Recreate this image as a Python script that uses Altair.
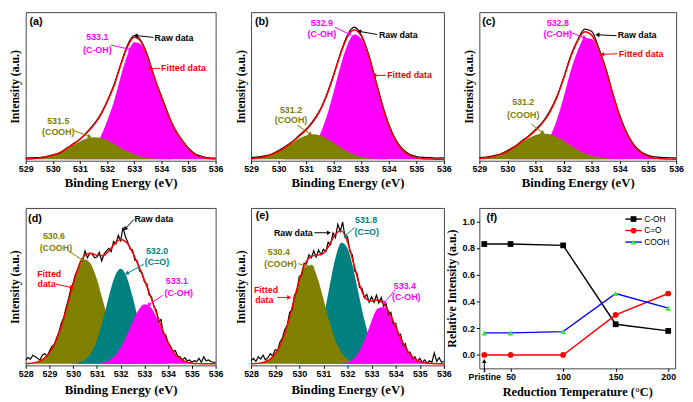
import math
import pandas as pd
import altair as alt

SANS = "Liberation Sans"
SERIF = "Liberation Serif"
MAG = "#ff00ff"
OLV = "#808000"
TEAL = "#008080"
RED = "#ff0000"
BLK = "#000000"

# ---------------- data ----------------
E_TOP = [round(529 + 0.25 * i, 2) for i in range(29)]   # 529..536
E_BOT = [round(528 + 0.25 * i, 2) for i in range(33)]   # 528..536
E_RAW = [round(528 + 0.1 * i, 1) for i in range(81)]    # 528..536

# (a) pristine
A_COH = [0, 0, 0, 0, 0, 0, 0.2, 0.6, 1.6, 3.8, 8, 15, 26, 39, 56, 71, 79.5, 78, 68, 55, 42, 30, 20.5, 13, 7, 3, 1.3, 0.5, 0.2]
A_COOH = [0.15, 0.35, 0.76, 1.5, 2.7, 4.5, 6.9, 9.5, 12.1, 14.1, 15, 14.6, 13, 10.6, 7.9, 5.4, 3.4, 1.9, 1.0, 0.5, 0.2, 0.1, 0, 0, 0, 0, 0, 0, 0]
A_FIT = [0.15, 0.35, 0.76, 1.5, 2.7, 4.5, 7.1, 10.1, 13.7, 17.9, 23, 29.6, 39, 49.6, 63.9, 76.4, 82.9, 79.9, 69, 55.5, 42.2, 30.1, 20.5, 13, 7, 3, 1.3, 0.5, 0.2]
A_RAW = [0.8, 1.0, 1.2, 1.8, 3.0, 4.3, 7.4, 10.5, 13.5, 18.4, 23.5, 30.2, 39.5, 50.5, 64.5, 77.5, 84, 80.5, 70, 55, 43, 30.8, 20, 13.5, 7.5, 3.6, 1.9, 1.0, 0.8]

# (b) 50 C
B_COH = [0, 0, 0, 0, 0, 0.15, 0.5, 1.5, 3.7, 8.4, 16.7, 29.4, 45.9, 63.5, 77.9, 84.8, 81.9, 70.6, 54.3, 37.3, 22.8, 12.5, 6.1, 2.6, 1.0, 0.35, 0.1, 0, 0]
B_COOH = [0.4, 0.9, 1.7, 3.2, 5.3, 8.1, 11.2, 14.1, 16.2, 17, 16.2, 14.1, 11.2, 8.1, 5.3, 3.2, 1.7, 0.9, 0.4, 0.15, 0.05, 0, 0, 0, 0, 0, 0, 0, 0]
B_FIT = [0.4, 0.9, 1.7, 3.2, 5.3, 8.25, 11.7, 15.6, 19.9, 25.4, 32.9, 43.5, 57.1, 71.6, 83.2, 88, 83.6, 71.5, 54.7, 37.45, 22.85, 12.5, 6.1, 2.6, 1, 0.35, 0.1, 0, 0]
B_RAW = [1.2, 1.6, 2.3, 3.6, 5.9, 8.8, 12.1, 16.3, 20.4, 26.1, 33.4, 44.2, 57.6, 72.3, 84.5, 89.8, 84.4, 72.3, 55.3, 38.2, 23.6, 13.3, 7.0, 3.4, 1.9, 1.3, 1.1, 0.8, 0.9]

# (c) 100 C
C_COH = [0, 0, 0, 0, 0, 0.1, 0.4, 1.2, 3.1, 7.2, 14.7, 26.5, 42.3, 60.1, 74, 82.5, 81.8, 73, 60.1, 43.7, 28.7, 17, 9.1, 4.4, 1.9, 0.75, 0.3, 0.1, 0]
C_COOH = [0.45, 0.95, 1.9, 3.3, 5.4, 8.2, 11.2, 14.2, 16.4, 17.5, 17, 15.2, 12.5, 9.4, 6.5, 4.1, 2.4, 1.3, 0.6, 0.25, 0.1, 0, 0, 0, 0, 0, 0, 0, 0]
C_FIT = [0.45, 0.95, 1.9, 3.3, 5.4, 8.3, 11.6, 15.4, 19.5, 24.7, 31.7, 41.7, 54.8, 69.5, 80.5, 86.6, 84.2, 74.3, 60.7, 44, 28.8, 17, 9.1, 4.4, 1.9, 0.75, 0.3, 0.1, 0]
C_RAW = [1.2, 1.5, 2.4, 3.6, 6.0, 8.6, 12.3, 15.9, 20.3, 25.2, 32.6, 42.3, 55.6, 70.4, 81.2, 88.5, 86.8, 75.5, 61.6, 44.6, 29.5, 17.9, 9.8, 5.2, 2.6, 1.6, 1.2, 1.0, 0.8]

# (d) 150 C
D_COOH = [0.14, 0.44, 1.26, 3.2, 7.0, 13.8, 24.1, 37.3, 51.1, 62.1, 67, 63.9, 54.1, 40.6, 27, 16, 8.3, 3.9, 1.6, 0.6, 0.2, 0.06, 0, 0, 0, 0, 0, 0, 0, 0, 0, 0, 0]
D_CO = [0, 0, 0, 0, 0, 0, 0, 0, 0.25, 0.9, 2.7, 7.0, 15.2, 27.9, 43.1, 55.9, 61, 55.9, 43.1, 27.9, 15.2, 7.0, 2.7, 0.9, 0.25, 0, 0, 0, 0, 0, 0, 0, 0]
D_COH = [0, 0, 0, 0, 0, 0, 0, 0, 0, 0, 0, 0, 0.27, 0.83, 2.2, 5.2, 10.4, 18, 26.8, 34.5, 38.3, 36.6, 30.2, 21.5, 13.2, 7, 3.2, 1.3, 0.43, 0.13, 0.03, 0, 0]
D_FIT = [0.14, 0.44, 1.26, 3.2, 7.0, 13.8, 24.1, 37.3, 51.35, 63, 69.7, 70.9, 69.6, 69.3, 72.3, 77.1, 79.7, 77.8, 71.5, 63, 53.7, 43.7, 32.9, 22.4, 13.45, 7, 3.2, 1.3, 0.43, 0.13, 0.03, 0, 0]
D_RAW = [2.5, 4.0, 3.0, 5.5, 4.5, 3.5, 2.5, 5.5, 6.5, 5.0,
         8.0, 11.0, 12.5, 16.5, 20.5, 26.0, 29.5, 36.0, 41.5, 48.0,
         52.0, 57.5, 61.0, 65.5, 66.0, 72.5, 68.0, 71.0, 70.5, 68.0,
         68.5, 71.5, 66.0, 70.5, 72.5, 74.0, 72.0, 78.5, 77.0, 82.5,
         79.0, 87.5, 81.5, 78.0, 73.5, 73.0, 66.5, 66.0, 59.5, 58.5,
         52.5, 51.5, 44.0, 43.0, 36.5, 34.5, 27.0, 28.5, 19.0, 18.5,
         13.5, 11.5, 8.0, 8.5, 5.0, 4.5, 2.5, 4.0, 2.0, 2.5,
         1.0, 2.0, 1.5, 3.5, 1.0, 4.5, 2.0, 2.5, 1.5, 1.0,
         1.0]

# (e) 200 C
E_COOH = [0.07, 0.27, 0.9, 2.6, 6.3, 13.4, 24.5, 38.8, 53, 62.3, 63.2, 55.4, 41.8, 27.2, 15.3, 7.4, 3.1, 1.1, 0.35, 0.1, 0, 0, 0, 0, 0, 0, 0, 0, 0, 0, 0, 0, 0]
E_CO = [0, 0, 0, 0, 0, 0, 0, 0.1, 0.5, 1.9, 5.8, 14.3, 29.1, 49, 67.9, 77.7, 74.2, 60.4, 42.1, 25, 12.7, 5.5, 2, 0.65, 0.2, 0, 0, 0, 0, 0, 0, 0, 0]
E_COH = [0, 0, 0, 0, 0, 0, 0, 0, 0, 0, 0, 0, 0, 0, 0.05, 0.24, 1.0, 3.2, 8.3, 16.9, 27.5, 35.5, 36.5, 31.7, 23.5, 14.9, 8.1, 3.7, 1.5, 0.5, 0.15, 0.04, 0]
E_FIT = [0.07, 0.27, 0.9, 2.6, 6.3, 13.4, 24.5, 38.9, 53.5, 64.2, 69, 69.7, 70.9, 76.2, 83.25, 85.3, 78.3, 64.7, 50.75, 42, 40.2, 41, 38.5, 32.35, 23.7, 14.9, 8.1, 3.7, 1.5, 0.5, 0.15, 0.04, 0]
E_RAWY = [2.0, 3.5, 1.5, 4.5, 3.0, 5.5, 2.5, 4.0, 6.5, 5.0,
          9.0, 8.5, 14.0, 16.5, 22.0, 24.5, 33.0, 34.5, 44.0, 46.5,
          56.0, 57.0, 64.5, 64.0, 70.0, 68.0, 72.5, 68.5, 73.0, 70.0,
          73.5, 72.0, 78.0, 76.5, 84.0, 81.0, 89.5, 85.0, 91.0, 81.0,
          81.5, 72.0, 70.0, 59.5, 58.0, 49.0, 48.5, 42.5, 44.5, 39.5,
          43.0, 39.5, 44.0, 39.0, 42.5, 37.0, 38.5, 31.5, 33.0, 25.5,
          26.0, 18.5, 19.0, 12.0, 13.0, 7.0, 7.5, 3.5, 4.5, 1.5,
          3.5, 1.0, 2.5, 0.5, 2.0, 1.0, 7.0, 1.5, 4.0, 1.0,
          1.5]

# (f) relative intensities
TEMPS = [25, 50, 100, 150, 200]
TEMP_LABELS = ["Pristine", "50", "100", "150", "200"]
REL_COH = [0.83, 0.83, 0.82, 0.23, 0.18]
REL_CO = [0.0, 0.0, 0.0, 0.30, 0.46]
REL_COOH = [0.165, 0.165, 0.175, 0.46, 0.35]

YDOM = [-1, 100]


def x_axis(ticks, title, fmt="d", label_expr=None, title_size=13, title_pad=3):
    kw = dict(values=ticks, format=fmt, title=title, titleFont=SERIF, titleFontSize=title_size,
              titleFontWeight="bold", titleColor="#000", labelFont=SANS, labelFontSize=9,
              labelFontWeight="bold", labelColor="#000", tickSize=3, tickColor="#000",
              domain=False, grid=False, labelPadding=1, titlePadding=title_pad, labelFlush=False,
              labelOverlap=False)
    if label_expr:
        kw["labelExpr"] = label_expr
    return alt.Axis(**kw)


Y_INT = alt.Axis(title="Intensity (a.u.)", labels=False, ticks=False, domain=False, grid=False,
                 titleFont=SERIF, titleFontSize=12, titleFontWeight="bold", titleColor="#000",
                 titlePadding=4)


def texts(rows, align, xs, ys, xax, yax, size=9, weight="bold"):
    df = pd.DataFrame(rows, columns=["t", "e", "v", "c"])
    return alt.Chart(df).mark_text(align=align, baseline="middle", font=SANS, fontWeight=weight,
                                   fontSize=size).encode(
        x=alt.X("e:Q", scale=xs, axis=xax), y=alt.Y("v:Q", scale=ys, axis=yax),
        text="t:N", color=alt.Color("c:N", scale=None))


def arrows(arrs, xs, ys, xdom, ydom, W, H, xax, yax, head=22):
    rows = []
    for (x1, y1, x2, y2, c) in arrs:
        dx = (x2 - x1) * W / (xdom[1] - xdom[0])
        dy = -(y2 - y1) * H / (ydom[1] - ydom[0])
        ang = math.degrees(math.atan2(dy, dx)) % 360
        rows.append({"e": x1, "v": y1, "e2": x2, "v2": y2, "c": c, "a": ang})
    df = pd.DataFrame(rows)
    rule = alt.Chart(df).mark_rule(strokeWidth=1).encode(
        x=alt.X("e:Q", scale=xs, axis=xax), y=alt.Y("v:Q", scale=ys, axis=yax),
        x2="e2:Q", y2="v2:Q", color=alt.Color("c:N", scale=None))
    tip = alt.Chart(df).mark_point(shape="triangle-right", filled=True, size=head, opacity=1,
                                   strokeWidth=0).encode(
        x=alt.X("e2:Q", scale=xs, axis=xax), y=alt.Y("v2:Q", scale=ys, axis=yax),
        angle=alt.Angle("a:Q", scale=None), color=alt.Color("c:N", scale=None))
    return [rule, tip]


def xps(grid, comps, fit, rawx, rawy, raw_interp, letter, center_lbl, left_lbl, right_lbl,
        arrs, xdom, ticks, W, H, title_pad=3):
    xs = alt.Scale(domain=xdom, nice=False, zero=False)
    ys = alt.Scale(domain=YDOM, nice=False, zero=False)
    xax = x_axis(ticks, "Binding Energy (eV)", title_pad=title_pad)
    layers = []
    for vals, col in comps:
        df = pd.DataFrame({"e": grid, "v": vals})
        layers.append(alt.Chart(df).mark_area(interpolate="monotone", color=col, opacity=1).encode(
            x=alt.X("e:Q", scale=xs, axis=xax), y=alt.Y("v:Q", scale=ys, axis=Y_INT),
            y2=alt.datum(0)))
    raw = pd.DataFrame({"e": rawx, "v": rawy})
    layers.append(alt.Chart(raw).mark_line(color=BLK, strokeWidth=1.2, interpolate=raw_interp).encode(
        x=alt.X("e:Q", scale=xs, axis=xax), y=alt.Y("v:Q", scale=ys, axis=Y_INT)))
    fdf = pd.DataFrame({"e": grid, "v": fit})
    layers.append(alt.Chart(fdf).mark_line(color=RED, strokeWidth=1.5, interpolate="monotone").encode(
        x=alt.X("e:Q", scale=xs, axis=xax), y=alt.Y("v:Q", scale=ys, axis=Y_INT)))
    layers += arrows(arrs, xs, ys, xdom, YDOM, W, H, xax, Y_INT)
    layers.append(texts([letter], "left", xs, ys, xax, Y_INT, size=11))
    if center_lbl:
        layers.append(texts(center_lbl, "center", xs, ys, xax, Y_INT))
    if left_lbl:
        layers.append(texts(left_lbl, "left", xs, ys, xax, Y_INT))
    if right_lbl:
        layers.append(texts(right_lbl, "right", xs, ys, xax, Y_INT))
    return alt.layer(*layers).properties(width=W, height=H)


TOP_TICKS = [529, 530, 531, 532, 533, 534, 535, 536]
BOT_TICKS = [528, 529, 530, 531, 532, 533, 534, 535, 536]

pa = xps(E_TOP, [(A_COH, MAG), (A_COOH, OLV)], A_FIT, E_TOP, A_RAW, "monotone",
         ("(a)", 529.14, 93, BLK),
         [("533.1", 531.64, 83.4, MAG), ("(C-OH)", 531.64, 73.9, MAG),
          ("531.5", 530.2, 26.1, OLV), ("(COOH)", 530.2, 18.5, OLV)],
         [("Raw data", 533.75, 82.2, BLK), ("Fitted data", 533.99, 61.8, RED)], None,
         [(532.13, 77.7, 532.87, 74.5, MAG), (533.71, 82.8, 533.05, 84.1, BLK),
          (533.96, 61.8, 533.57, 61.8, RED), (530.76, 19.7, 531.36, 15.3, OLV)],
         [529, 536], TOP_TICKS, 193, 151)

pb = xps(E_TOP, [(B_COH, MAG), (B_COOH, OLV)], B_FIT, E_TOP, B_RAW, "monotone",
         ("(b)", 529.14, 93, BLK),
         [("532.9", 531.57, 92.8, MAG), ("(C-OH)", 531.57, 85.4, MAG),
          ("531.2", 530.45, 33.7, OLV), ("(COOH)", 530.45, 26.4, OLV)],
         [("Raw data", 533.64, 84.4, BLK), ("Fitted data", 533.94, 57, RED)], None,
         [(532.05, 89.7, 532.58, 84.8, MAG), (533.58, 84.8, 532.93, 86.9, BLK),
          (533.88, 57, 533.47, 57, RED), (530.68, 23.2, 531.16, 16.9, OLV)],
         [529, 536], TOP_TICKS, 196, 151)

pc = xps(E_TOP, [(C_COH, MAG), (C_COOH, OLV)], C_FIT, E_TOP, C_RAW, "monotone",
         ("(c)", 529.1, 93.5, BLK),
         [("532.8", 531.79, 92.4, MAG), ("(C-OH)", 531.79, 85, MAG),
          ("531.2", 530.56, 38.6, OLV), ("(COOH)", 530.56, 30.2, OLV)],
         [("Raw data", 533.92, 84.6, BLK), ("Fitted data", 533.96, 71.7, RED)], None,
         [(532.26, 86.1, 532.75, 82.5, MAG), (533.88, 84, 533.2, 84.6, BLK),
          (533.9, 71.7, 533.37, 71.3, RED), (530.85, 23.9, 531.26, 17.9, OLV)],
         [529, 536], TOP_TICKS, 200, 151)

pd_ = xps(E_BOT, [(D_COOH, OLV), (D_CO, TEAL), (D_COH, MAG)], D_FIT, E_RAW, D_RAW, "linear",
          ("(d)", 528.1, 92.7, BLK),
          [("530.6", 529.19, 81.7, OLV), ("(COOH)", 529.27, 74.4, OLV),
           ("Fitted", 528.99, 57.9, RED), ("data", 528.88, 51.2, RED),
           ("532.0", 533.53, 72.6, TEAL), ("(C=O)", 533.53, 65.2, TEAL),
           ("533.1", 534.37, 53, MAG), ("(C-OH)", 534.45, 45.7, MAG)],
          [("Raw data", 532.58, 92.7, BLK)], None,
          [(532.56, 92.7, 532.19, 86.6, BLK), (529.79, 72.6, 530.39, 66.5, OLV),
           (529.27, 51.2, 529.95, 48.8, RED), (532.98, 64, 532.26, 57.9, TEAL),
           (533.77, 43.9, 533.17, 37.8, MAG)],
          [528, 536], BOT_TICKS, 193, 160, title_pad=6)

pe = xps(E_BOT, [(E_CO, TEAL), (E_COOH, OLV), (E_COH, MAG)], E_FIT, E_RAW, E_RAWY, "linear",
         ("(e)", 528.19, 95, BLK),
         [("531.8", 532.77, 92, TEAL), ("(C=O)", 532.8, 84.5, TEAL),
          ("530.4", 529.15, 71.5, OLV), ("(COOH)", 529.22, 64.2, OLV),
          ("Fitted", 528.62, 47.4, RED), ("data", 528.55, 41.1, RED),
          ("533.4", 534.38, 50.1, MAG), ("(C-OH)", 534.44, 42.8, MAG)],
         None, [("Raw data", 530.56, 84.1, BLK)],
         [(532.3, 87.4, 531.9, 82, TEAL), (530.63, 84.1, 531.23, 84.1, BLK),
          (529.96, 64.2, 530.56, 62.1, OLV), (529.09, 42.6, 529.58, 42.6, RED),
          (533.98, 47.4, 533.51, 39, MAG)],
         [528, 536], BOT_TICKS, 196, 160, title_pad=6)

# ---------------- panel (f) ----------------
FXD = [20.3, 206.6]
FYD = [-0.1, 1.1]
FW, FH = 199, 163
xs_f = alt.Scale(domain=FXD, nice=False, zero=False)
ys_f = alt.Scale(domain=FYD, nice=False, zero=False)
xax_f = x_axis(TEMPS, "Reduction Temperature (°C)",
               label_expr="datum.value == 25 ? 'Pristine' : datum.label", title_size=12.5,
               title_pad=5)
yax_f = alt.Axis(values=[0, 0.2, 0.4, 0.6, 0.8, 1.0], format=".1f", title="Relative Intensity (a.u.)",
                 titleFont=SERIF, titleFontSize=12, titleFontWeight="bold", titleColor="#000",
                 labelFont=SANS, labelFontSize=9, labelFontWeight="bold", labelColor="#000",
                 tickSize=3, tickColor="#000", domain=False, grid=False, labelPadding=2,
                 titlePadding=4, labelFlush=False, labelOverlap=False)

series = [("C-OH", REL_COH, BLK, BLK, "square", 1.017),
          ("C=O", REL_CO, RED, RED, "circle", 0.931),
          ("COOH", REL_COOH, "#0000ff", "#33ee33", "triangle-up", 0.845)]
f_layers = []
for name, vals, lc, mc, shp, ly in series:
    df = pd.DataFrame({"t": TEMPS, "r": vals})
    f_layers.append(alt.Chart(df).mark_line(color=lc, strokeWidth=1.4).encode(
        x=alt.X("t:Q", scale=xs_f, axis=xax_f), y=alt.Y("r:Q", scale=ys_f, axis=yax_f)))
for name, vals, lc, mc, shp, ly in series:
    df = pd.DataFrame({"t": TEMPS, "r": vals})
    f_layers.append(alt.Chart(df).mark_point(shape=shp, filled=True, size=34, color=mc, opacity=1).encode(
        x=alt.X("t:Q", scale=xs_f, axis=xax_f), y=alt.Y("r:Q", scale=ys_f, axis=yax_f)))
# legend (manual, inside the plot)
for name, vals, lc, mc, shp, ly in series:
    ldf = pd.DataFrame({"t": [159.2], "t2": [174.9], "tm": [167.0], "tt": [177.1], "r": [ly], "n": [name]})
    f_layers.append(alt.Chart(ldf).mark_rule(color=lc, strokeWidth=1.4).encode(
        x=alt.X("t:Q", scale=xs_f, axis=xax_f), x2="t2:Q", y=alt.Y("r:Q", scale=ys_f, axis=yax_f)))
    f_layers.append(alt.Chart(ldf).mark_point(shape=shp, filled=True, size=34, color=mc, opacity=1).encode(
        x=alt.X("tm:Q", scale=xs_f, axis=xax_f), y=alt.Y("r:Q", scale=ys_f, axis=yax_f)))
    f_layers.append(alt.Chart(ldf).mark_text(align="left", baseline="middle", font=SANS, fontSize=8.5,
                                             color=BLK).encode(
        x=alt.X("tt:Q", scale=xs_f, axis=xax_f), y=alt.Y("r:Q", scale=ys_f, axis=yax_f), text="n:N"))
f_layers.append(alt.Chart(pd.DataFrame({"t": [27.0], "r": [1.026], "s": ["(f)"]})).mark_text(
    align="left", baseline="middle", font=SANS, fontSize=11, fontWeight="bold", color=BLK).encode(
    x=alt.X("t:Q", scale=xs_f, axis=xax_f), y=alt.Y("r:Q", scale=ys_f, axis=yax_f), text="s:N"))
f_arrow = pd.DataFrame({"t": [25.0], "r": [-0.13], "r2": [-0.045]})
f_layers.append(alt.Chart(f_arrow).mark_rule(color=BLK, strokeWidth=1).encode(
    x=alt.X("t:Q", scale=xs_f, axis=xax_f), y=alt.Y("r:Q", scale=ys_f, axis=yax_f), y2="r2:Q"))
f_layers.append(alt.Chart(f_arrow).mark_point(shape="triangle-up", filled=True, size=22, color=BLK,
                                              opacity=1).encode(
    x=alt.X("t:Q", scale=xs_f, axis=xax_f), y=alt.Y("r2:Q", scale=ys_f, axis=yax_f)))
pf = alt.layer(*f_layers).properties(width=FW, height=FH)

chart = alt.concat(pa, pb, pc, pd_, pe, pf, columns=3, spacing={"row": 48, "column": 36},
                   bounds="flush", align="each").properties(
    padding={"left": 0, "top": 0, "right": 0, "bottom": 0}, background="white"
).configure_view(stroke="#444", strokeWidth=1)

chart.save("out.html", embed_options={"renderer": "svg", "actions": False})
